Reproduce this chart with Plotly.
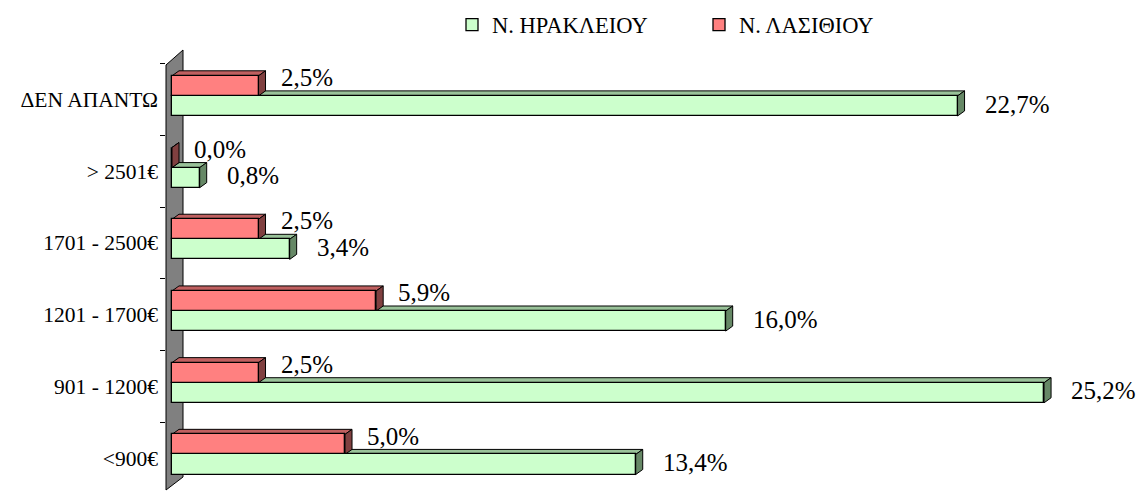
import plotly.graph_objects as go

categories = ['<900€', '901 - 1200€', '1201 - 1700€', '1701 - 2500€', '> 2501€', 'ΔΕΝ ΑΠΑΝΤΩ']
heraklion = [13.4, 25.2, 16.0, 3.4, 0.8, 22.7]
lasithi = [5.0, 2.5, 5.9, 2.5, 0.0, 2.5]
series_names = ['Ν. ΗΡΑΚΛΕΙΟΥ', 'Ν. ΛΑΣΙΘΙΟΥ']

idx = list(range(len(categories)))

FONT = 'Liberation Serif'
W, H = 1142, 491
ML, MR, MT, MB = 166, 0, 45, 0
XR = [-0.1734, 28.03]
YR = [-0.46, 5.76]

# 3D depth (data units)
DX = 0.2023
DY = 0.07
BW = 0.28
OFF = {'g': -0.23, 'r': 0.05}

front = {'g': '#CCFFCC', 'r': '#FF8080'}
topc = {'g': '#99C299', 'r': '#C06060'}
sidec = {'g': '#668866', 'r': '#804040'}

fig = go.Figure()
fig.add_trace(go.Bar(
    x=heraklion, y=idx, orientation='h', offset=OFF['g'], width=BW,
    name=series_names[0],
    marker=dict(color=front['g'], line=dict(color='black', width=1.3)),
))
fig.add_trace(go.Bar(
    x=lasithi, y=idx, orientation='h', offset=OFF['r'], width=BW,
    name=series_names[1],
    marker=dict(color=front['r'], line=dict(color='black', width=1.3)),
))

shapes = []
pw = W - ML - MR
ph = H - MT - MB
def px(xp):
    return (xp - ML) / pw
def py(yp):
    return (H - MB - yp) / ph
wall = [(166, 490), (166, 65), (183, 50), (183, 477)]
path = 'M ' + ' L '.join(f'{px(a):.5f},{py(b):.5f}' for a, b in wall) + ' Z'
shapes.append(dict(type='path', path=path, xref='paper', yref='paper',
                   fillcolor='#808080', line=dict(color='black', width=1), layer='below'))

def poly(pts):
    return 'M ' + ' L '.join(f'{a:.4f},{b:.4f}' for a, b in pts) + ' Z'

for key, vals in (('g', heraklion), ('r', lasithi)):
    for i, v in zip(idx, vals):
        b = i + OFF[key]
        t = b + BW
        top = [(0, t), (v, t), (v + DX, t + DY), (DX, t + DY)]
        side = [(v, b), (v, t), (v + DX, t + DY), (v + DX, b + DY)]
        shapes.append(dict(type='path', path=poly(top), xref='x', yref='y',
                           fillcolor=topc[key], line=dict(color='black', width=1), layer='below'))
        shapes.append(dict(type='path', path=poly(side), xref='x', yref='y',
                           fillcolor=sidec[key], line=dict(color='black', width=1), layer='below'))

def fmt(v):
    return f'{v:.1f}%'.replace('.', ',')

annotations = []
for i, v in zip(idx, heraklion):
    annotations.append(dict(x=v, y=i, xref='x', yref='y', text=fmt(v), showarrow=False,
                            xanchor='left', yanchor='middle', xshift=25, yshift=-4.5,
                            font=dict(family=FONT, size=25, color='black')))
for i, v in zip(idx, lasithi):
    annotations.append(dict(x=v, y=i, xref='x', yref='y', text=fmt(v), showarrow=False,
                            xanchor='left', yanchor='middle', xshift=20, yshift=22,
                            font=dict(family=FONT, size=25, color='black')))

fig.update_layout(
    width=W, height=H,
    margin=dict(l=ML, r=MR, t=MT, b=MB, pad=0),
    paper_bgcolor='white', plot_bgcolor='rgba(0,0,0,0)',
    showlegend=True,
    legend=dict(orientation='h', x=px(452), y=py(25), xanchor='left', yanchor='middle',
                font=dict(family=FONT, size=22.5, color='black'),
                entrywidth=202, entrywidthmode='pixels',
                bgcolor='rgba(0,0,0,0)', borderwidth=0),
    shapes=shapes,
    annotations=annotations,
    bargap=0,
    font=dict(family=FONT, color='black'),
)
fig.update_xaxes(range=XR, visible=False, showgrid=False, zeroline=False)
fig.update_yaxes(range=YR, tickmode='array', tickvals=idx, ticktext=categories,
                 ticks='', showline=False, showgrid=False, zeroline=False,
                 automargin=False, ticklabelstandoff=7,
                 tickfont=dict(family=FONT, size=21.5, color='black'),
                 minor=dict(tickmode='array', tickvals=[k - 0.5 for k in range(7)],
                            ticks='outside', ticklen=5, tickcolor='black', tickwidth=1,
                            showgrid=False))

fig.write_html('out.html', config={'displayModeBar': False},
               post_script="document.body.style.margin='0';document.body.style.overflow='hidden';")
